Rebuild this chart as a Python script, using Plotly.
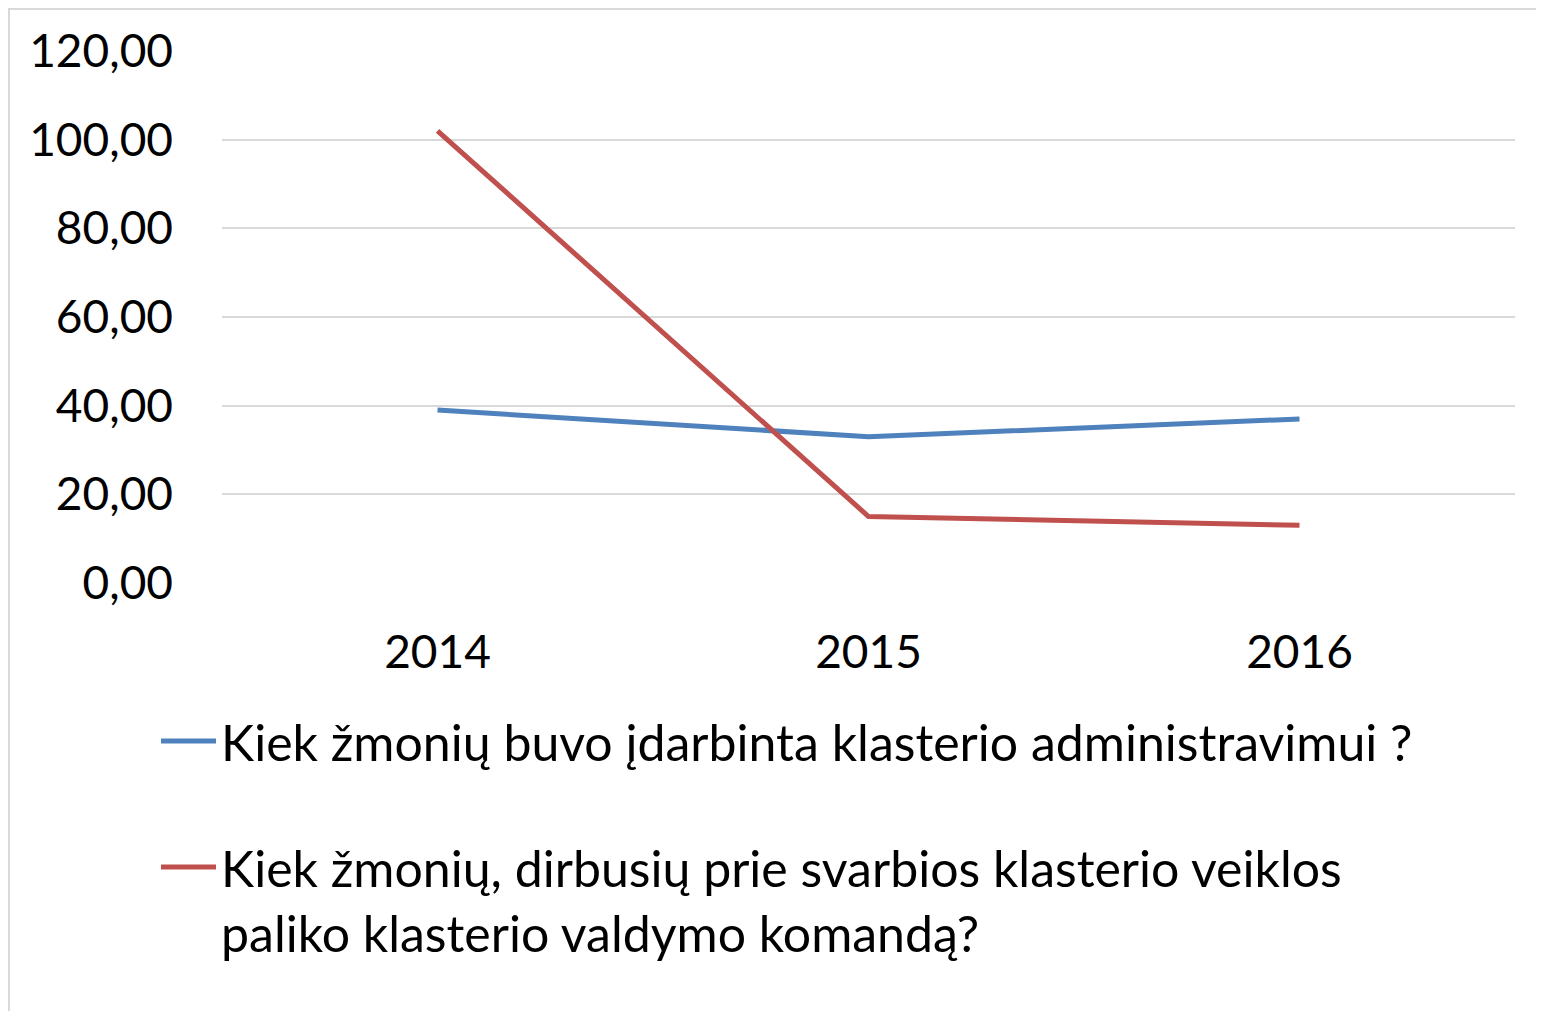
import plotly.graph_objects as go

years = ["2014", "2015", "2016"]
hired_admin = [39, 33, 37]
left_team = [102, 15, 13]
series_names = [
    "Kiek žmonių buvo įdarbinta klasterio administravimui ?",
    "Kiek žmonių, dirbusių prie svarbios klasterio veiklos<br>paliko klasterio valdymo komandą?",
]
y_ticks = [0, 20, 40, 60, 80, 100, 120]

FONT = "Lato, Calibri, Carlito, sans-serif"
W, H = 1544, 1011
L, T, PW, PH = 214, 43, 1293, 532

fig = go.Figure()
fig.add_trace(go.Scatter(x=years, y=hired_admin, mode="lines", name=series_names[0],
                         legendgroup="a",
                         line=dict(color="#4F81BD", width=5)))
fig.add_trace(go.Scatter(x=years, y=left_team, mode="lines", name=series_names[1],
                         legendgroup="b",
                         line=dict(color="#C0504D", width=5)))

fig.update_layout(
    width=W, height=H,
    margin=dict(l=L, r=W - L - PW, t=T, b=H - T - PH, autoexpand=False),
    paper_bgcolor="white", plot_bgcolor="white",
    font=dict(family=FONT, size=46, color="black"),
    separators=",.",
    showlegend=True,
    legend=dict(
        orientation="v",
        xref="container", yref="container",
        x=148 / W, xanchor="left",
        y=1 - 694 / H, yanchor="top",
        font=dict(size=50, family=FONT),
        tracegroupgap=58,
        itemwidth=55,
        valign="top",
        bgcolor="rgba(0,0,0,0)",
    ),
    shapes=[dict(type="rect", xref="paper", yref="paper",
                 x0=(1 - L) / PW, x1=(1541 - L) / PW,
                 y0=-1.0, y1=(T + PH - 1) / PH,
                 line=dict(color="#D9D9D9", width=2), fillcolor="rgba(0,0,0,0)",
                 layer="below")],
)
fig.update_xaxes(type="category", range=[-0.5, 2.5], showgrid=False, zeroline=False,
                 showline=False, ticks="", tickfont=dict(size=46), tickangle=0,
                 ticklabelstandoff=38)
fig.update_yaxes(range=[0, 120], tickvals=y_ticks, tickformat=".2f",
                 showgrid=True, gridcolor="#D9D9D9", gridwidth=2,
                 zeroline=False, showline=False, ticks="",
                 tickfont=dict(size=46), ticklabelstandoff=48)

fig.write_html("out.html")
